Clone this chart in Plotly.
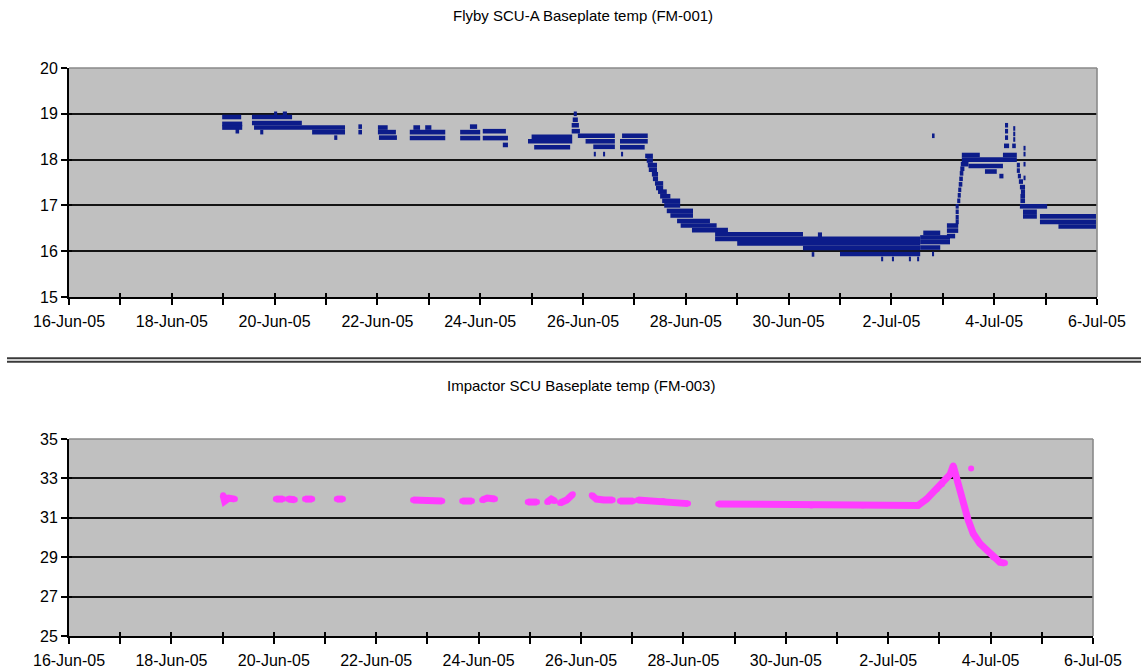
import pandas as pd
import plotly.graph_objects as go

# ---------------------------------------------------------------------------
# Flyby SCU-A baseplate temperature (FM-001)
# Telemetry is quantised, so readings are stored as held levels:
# start day, end day (days after 16-Jun-05 00:00) and temperature in degC.
# ---------------------------------------------------------------------------
flyby_start = [
    2.98, 2.98, 2.98, 3.24,
    3.56, 3.99, 4.16, 3.56, 3.60, 4.73, 5.16, 3.72,
    5.63, 5.63,
    6.01, 6.01, 6.03,
    6.70, 6.93, 6.63, 6.63,
    7.80, 7.61, 7.61,
    8.05, 8.05, 8.44,
    9.00, 8.93, 9.05,
    9.82, 9.80, 9.78, 9.78,
    9.90, 10.05, 10.20, 10.21, 10.39,
    10.76, 10.72, 10.72, 10.74,
    11.21, 11.24, 11.26, 11.28, 11.34, 11.36, 11.40, 11.42, 11.46, 11.50,
    11.54, 11.58, 11.63, 11.70, 11.83, 11.90, 12.12,
    12.57, 12.57, 13.00, 14.28, 15.00, 14.57,
    14.45, 15.80, 16.01, 16.34, 16.50,
    16.62, 16.56, 16.56, 16.56, 16.79,
    16.79,
    17.08, 17.08, 17.08,
    17.25, 17.25, 17.25, 17.25,
    17.28, 17.29, 17.30, 17.31, 17.32,
    17.33, 17.34, 17.35,
    17.37, 17.37, 17.50, 17.82, 18.10, 18.17,
    18.21, 18.21, 18.21, 18.19,
    18.37, 18.37, 18.37, 18.35,
    18.57, 18.57, 18.57, 18.57,
    18.44, 18.44, 18.46, 18.48, 18.50, 18.52, 18.51, 18.51,
    18.50, 18.56, 18.56,
    18.89, 18.89, 19.25,
]
flyby_end = [
    3.35, 3.37, 3.37, 3.31,
    4.34, 4.05, 4.24, 4.53, 5.37, 5.37, 5.22, 3.78,
    5.70, 5.70,
    6.20, 6.36, 6.38,
    6.83, 7.05, 7.32, 7.32,
    7.94, 8.00, 8.00,
    8.50, 8.54, 8.54,
    9.79, 9.79, 9.75,
    9.88, 9.90, 9.92, 9.94,
    10.62, 10.62, 10.62, 10.25, 10.43,
    11.26, 11.26, 11.20, 10.78,
    11.36, 11.36, 11.44, 11.44, 11.46, 11.46, 11.56, 11.56, 11.63, 11.70,
    11.89, 11.89, 12.14, 12.14, 12.47, 12.60, 12.82,
    14.28, 16.56, 16.56, 16.56, 16.56, 14.65,
    14.50, 15.84, 16.05, 16.38, 16.54,
    16.95, 17.14, 17.14, 16.95, 16.83,
    16.84,
    17.30, 17.30, 17.24,
    17.31, 17.31, 17.31, 17.31,
    17.34, 17.35, 17.36, 17.38, 17.39,
    17.40, 17.42, 17.50,
    17.72, 18.44, 18.17, 18.05, 18.18, 18.44,
    18.27, 18.27, 18.27, 18.29,
    18.41, 18.41, 18.41, 18.42,
    18.61, 18.61, 18.61, 18.61,
    18.50, 18.50, 18.52, 18.56, 18.60, 18.60, 18.60, 18.60,
    19.03, 18.83, 18.83,
    19.98, 19.98, 19.98,
]
flyby_temp = [
    18.93, 18.78, 18.70, 18.62,
    18.93, 19.00, 19.00, 18.80, 18.70, 18.60, 18.48, 18.60,
    18.72, 18.60,
    18.70, 18.60, 18.48,
    18.70, 18.70, 18.60, 18.47,
    18.72, 18.60, 18.47,
    18.62, 18.47, 18.32,
    18.50, 18.40, 18.27,
    19.00, 18.87, 18.75, 18.62,
    18.52, 18.40, 18.28, 18.12, 18.12,
    18.52, 18.40, 18.27, 18.12,
    18.08, 17.98, 17.88, 17.78, 17.68, 17.58, 17.48, 17.38, 17.30, 17.20,
    17.10, 17.00, 16.88, 16.78, 16.66, 16.56, 16.46,
    16.37, 16.27, 16.17, 16.07, 15.94, 16.36,
    15.93, 15.83, 15.83, 15.83, 15.83,
    16.40, 16.30, 16.20, 16.08, 15.94,
    18.52,
    16.56, 16.45, 16.33,
    16.98, 16.86, 16.74, 16.64,
    17.10, 17.22, 17.34, 17.46, 17.58,
    17.70, 17.80, 17.90,
    18.10, 18.00, 17.86, 17.74, 17.64, 18.10,
    18.75, 18.62, 18.48, 18.30,
    18.68, 18.56, 18.44, 18.30,
    18.25, 18.12, 17.90, 17.60,
    17.88, 17.76, 17.64, 17.52, 17.40, 17.30, 17.20, 17.10,
    16.98, 16.86, 16.76,
    16.76, 16.64, 16.54,
]

# ---------------------------------------------------------------------------
# Impactor SCU baseplate temperature (FM-003)
# Sampled points, days after 16-Jun-05 00:00; None marks a data gap.
# ---------------------------------------------------------------------------
impactor_day = [
    3.01, 3.04, 3.12, 3.24, None,
    4.04, 4.18, None,
    4.28, 4.41, None,
    4.61, 4.75, None,
    5.23, 5.35, None,
    6.72, 7.00, 7.29, None,
    7.68, 7.87, None,
    8.07, 8.17, 8.32, None,
    8.96, 9.14, None,
    9.34, 9.42, 9.49, None,
    9.59, 9.72, 9.84, None,
    10.21, 10.30, 10.45, 10.62, None,
    10.76, 11.02, None,
    11.11, 11.60, 12.09, None,
    12.68, 13.50, 14.50, 15.50, 16.58, 16.75, 16.95, 17.05, 17.21, 17.27,
    17.36, 17.46, 17.56, 17.66, 17.79, 17.93, 18.05, 18.18, 18.28, None,
    17.62,
]
impactor_temp = [
    32.15, 31.85, 32.00, 31.95, None,
    31.95, 31.95, None,
    31.95, 31.92, None,
    31.95, 31.95, None,
    31.95, 31.95, None,
    31.90, 31.85, 31.85, None,
    31.85, 31.85, None,
    31.90, 32.00, 31.95, None,
    31.80, 31.80, None,
    31.80, 31.95, 31.85, None,
    31.75, 31.90, 32.20, None,
    32.15, 31.95, 31.90, 31.90, None,
    31.85, 31.85, None,
    31.90, 31.85, 31.72, None,
    31.70, 31.70, 31.62, 31.62, 31.62, 31.95, 32.45, 32.70, 33.20, 33.65,
    32.75, 31.80, 30.90, 30.20, 29.70, 29.35, 29.00, 28.75, 28.70, None,
    33.50,
]

# Axis ticks
flyby_ticks = [15, 16, 17, 18, 19, 20]
impactor_ticks = [25, 27, 29, 31, 33, 35]
date_start = "2005-06-16"
date_end = "2005-07-06"
date_format = "%-d-%b-%y"

BASE = pd.Timestamp(date_start)


def to_time(day):
    return None if day is None else BASE + pd.Timedelta(days=day)


def level_segments(starts, ends, temps):
    xs, ys = [], []
    for s, e, t in zip(starts, ends, temps):
        xs += [to_time(s), to_time(e), None]
        ys += [t, t, None]
    return xs, ys


W, H = 1141, 671
FONT = "Liberation Sans, Arial, sans-serif"
NAVY = "#0c1c8a"
MAGENTA = "#ff3cff"
PLOT_BG = "#c0c0c0"
GRID = "#141414"


def px_x(p):
    return p / W


def px_y(p):
    return 1 - p / H


fx, fy = level_segments(flyby_start, flyby_end, flyby_temp)

fig = go.Figure()
fig.add_trace(go.Scatter(
    x=fx, y=fy, mode="lines", xaxis="x", yaxis="y",
    line=dict(color=NAVY, width=4.6), connectgaps=False, hoverinfo="skip",
))
fig.add_trace(go.Scatter(
    x=[to_time(d) for d in impactor_day], y=impactor_temp,
    mode="lines+markers", xaxis="x2", yaxis="y2",
    line=dict(color=MAGENTA, width=7), marker=dict(color=MAGENTA, size=6),
    connectgaps=False, hoverinfo="skip",
))
# empty traces carrying the inner half of the cross tick marks
fig.add_trace(go.Scatter(x=[], y=[], xaxis="x3", yaxis="y3"))
fig.add_trace(go.Scatter(x=[], y=[], xaxis="x4", yaxis="y4"))

tick_font = dict(family=FONT, size=16, color="black")

common_x = dict(
    type="date", range=[date_start, date_end], tick0=date_start,
    dtick=2 * 86400000, tickformat=date_format, ticks="outside", ticklen=6,
    tickwidth=2, tickcolor="black", showline=True, linecolor="black",
    linewidth=2, showgrid=False, zeroline=False, tickfont=tick_font,
    automargin=False, ticklabelstandoff=3,
    minor=dict(dtick=86400000, tick0=date_start, ticks="outside", ticklen=6,
               tickwidth=2, tickcolor="black", showgrid=False),
)
common_y = dict(
    ticks="outside", ticklen=6, tickwidth=2, tickcolor="black",
    showline=True, linecolor="black", linewidth=2, showgrid=True,
    gridcolor=GRID, gridwidth=1.8, zeroline=False, tickfont=tick_font,
    automargin=False,
)
inner_x = dict(
    type="date", range=[date_start, date_end], tick0=date_start,
    dtick=86400000, ticks="inside", ticklen=4, tickwidth=2,
    tickcolor="black", showticklabels=False, showgrid=False,
    showline=False, zeroline=False, automargin=False,
)
inner_y = dict(
    ticks="inside", ticklen=3, tickwidth=2, tickcolor="black",
    showticklabels=False, showgrid=False, showline=False, zeroline=False,
    side="left", automargin=False,
)

top_dom_x = [px_x(69), px_x(1097)]
top_dom_y = [px_y(297), px_y(68)]
bot_dom_x = [px_x(69), px_x(1093)]
bot_dom_y = [px_y(636), px_y(439)]

fig.update_layout(
    template="none",
    width=W, height=H, autosize=False,
    margin=dict(l=0, r=0, t=0, b=0, autoexpand=False),
    paper_bgcolor="white", plot_bgcolor=PLOT_BG,
    showlegend=False,
    font=dict(family=FONT, color="black"),
    xaxis=dict(domain=top_dom_x, anchor="y", **common_x),
    yaxis=dict(domain=top_dom_y, anchor="x", range=[flyby_ticks[0], flyby_ticks[-1]],
               tickvals=flyby_ticks, **common_y),
    xaxis2=dict(domain=bot_dom_x, anchor="y2", **common_x),
    yaxis2=dict(domain=bot_dom_y, anchor="x2",
                range=[impactor_ticks[0], impactor_ticks[-1]],
                tickvals=impactor_ticks, **common_y),
    xaxis3=dict(overlaying="x", anchor="y", **inner_x),
    yaxis3=dict(overlaying="y", anchor="x", range=[flyby_ticks[0], flyby_ticks[-1]],
                tickvals=flyby_ticks, **inner_y),
    xaxis4=dict(overlaying="x2", anchor="y2", **inner_x),
    yaxis4=dict(overlaying="y2", anchor="x2",
                range=[impactor_ticks[0], impactor_ticks[-1]],
                tickvals=impactor_ticks, **inner_y),
)

# grey frame on the top and right of each plot area
frame = dict(color="#8a8a8a", width=1.6)
for xr, yr in (("x", "y"), ("x2", "y2")):
    fig.add_shape(type="line", xref=f"{xr} domain", yref=f"{yr} domain",
                  x0=0, x1=1, y0=1, y1=1, line=frame, layer="above")
    fig.add_shape(type="line", xref=f"{xr} domain", yref=f"{yr} domain",
                  x0=1, x1=1, y0=0, y1=1, line=frame, layer="above")

# double rule between the two charts
for yy in (358.3, 361.7):
    fig.add_shape(type="line", xref="paper", yref="paper",
                  x0=px_x(7), x1=1, y0=px_y(yy), y1=px_y(yy),
                  line=dict(color="#3a3a3a", width=2))

title_font = dict(family=FONT, size=15, color="black")
fig.add_annotation(text="Flyby SCU-A Baseplate temp (FM-001)",
                   xref="paper", yref="paper", x=px_x(583), y=px_y(16),
                   xanchor="center", yanchor="middle", showarrow=False,
                   font=title_font)
fig.add_annotation(text="Impactor SCU Baseplate temp (FM-003)",
                   xref="paper", yref="paper", x=px_x(581), y=px_y(385),
                   xanchor="center", yanchor="middle", showarrow=False,
                   font=title_font)

fig.write_html("out.html")
